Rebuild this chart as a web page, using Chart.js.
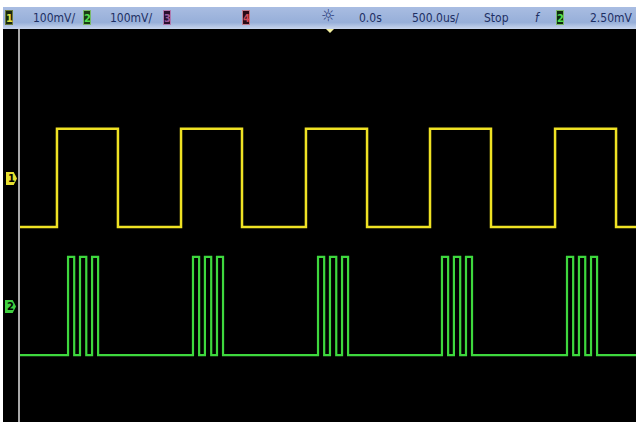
<!DOCTYPE html>
<html>
<head>
<meta charset="utf-8">
<script src="https://cdn.jsdelivr.net/npm/chart.js@4/dist/chart.umd.min.js"></script>
<style>
  html, body { margin: 0; padding: 0; background: #ffffff; }
  #wrap { position: relative; width: 636px; height: 422px; overflow: hidden; background: #ffffff; }
  #bar { position: absolute; left: 3px; top: 7px; width: 633px; height: 22px;
         background: linear-gradient(to bottom, #a9bde2 0%, #97afd9 70%, #c9d6ee 100%);
         font-family: "Liberation Sans Narrow", "DejaVu Sans Condensed", "Liberation Sans", sans-serif;
         font-size: 12px; color: #1d2f63; }
  .t { position: absolute; top: 4px; white-space: nowrap; line-height: 14px; }
  .box { position: absolute; top: 3px; width: 8px; height: 15px; font-size: 11px; line-height: 15px;
         text-align: center; font-family: "DejaVu Sans Condensed", sans-serif; font-weight: bold; box-sizing: border-box; }
  #screen { position: absolute; left: 3px; top: 29px; width: 633px; height: 393px; background: #000000; }
  #vline { position: absolute; left: 18px; top: 29px; width: 2px; height: 393px; background: #a8a8a8; }
  .mk { position: absolute; width: 11px; height: 13px; font-family: "DejaVu Sans", sans-serif; font-weight: bold;
        font-size: 10px; line-height: 13px; text-align: center; color: #000;
        clip-path: polygon(0 0, 70% 0, 100% 50%, 70% 100%, 0 100%); }
  #trig { position: absolute; left: 326px; top: 29px; width: 0; height: 0;
          border-left: 4px solid transparent; border-right: 4px solid transparent; border-top: 4px solid #f4f0a0; }
</style>
</head>
<body>
<div id="wrap">
  <div id="bar">
    <div class="box" style="left:2px;background:#18260e;color:#e4e040;border:1px solid #6a7a3a;">1</div>
    <div class="t" style="left:30px;">100mV/</div>
    <div class="box" style="left:80px;background:#1c3a14;color:#52e052;border:1px solid #7ab86a;">2</div>
    <div class="t" style="left:107px;">100mV/</div>
    <div class="box" style="left:160px;background:#2a0f2e;color:#9c5a9c;border:1px solid #b07ab0;">3</div>
    <div class="box" style="left:239px;background:#2a0a14;color:#d04a5a;border:1px solid #c07a8a;">4</div>
    <div class="t" style="left:318px;top:2px;font-size:16px;font-family:'DejaVu Sans',sans-serif;color:#2a3c7a;">☼</div>
    <div class="t" style="left:356px;">0.0s</div>
    <div class="t" style="left:409px;">500.0us/</div>
    <div class="t" style="left:481px;">Stop</div>
    <div class="t" style="left:532px;font-style:italic;">f</div>
    <div class="box" style="left:553px;background:#0e2a0e;color:#52e052;border:1px solid #7ab86a;">2</div>
    <div class="t" style="left:587px;">2.50mV</div>
  </div>
  <div id="screen"><canvas id="c" width="633" height="393"></canvas></div>
  <div id="vline"></div>
  <div id="trig"></div>
  <div class="mk" style="left:6px;top:172px;background:#e8e030;">1</div>
  <div class="mk" style="left:5px;top:300px;background:#40d040;">2</div>
</div>
<script>
// Time axis in microseconds (500 us/div, 10 div across screen)
const timeMin = -2500;
const timeMax = 2500;

// Channel 1 (yellow): edge times (us) and the level (mV) the signal takes at each time
const ch1Times  = [-2500, -2200, -1705, -1193, -698, -179, 317, 828, 1323, 1843, 2338, 2500];
const ch1Levels = [ -100,   100,  -100,   100, -100,  100, -100, 100, -100,  100, -100, -100];

// Channel 2 (green): bursts of 3 pulses
const ch2Times  = [-2500,
  -2110, -2060, -2013, -1962, -1915, -1866,
  -1096, -1046,  -999,  -948,  -901,  -852,
    -81,   -31,    16,    67,   114,   163,
    925,   975,  1022,  1073,  1120,  1169,
   1940,  1990,  2037,  2088,  2135,  2184,
   2500];
const ch2Levels = [-100,
  100, -100, 100, -100, 100, -100,
  100, -100, 100, -100, 100, -100,
  100, -100, 100, -100, 100, -100,
  100, -100, 100, -100, 100, -100,
  100, -100, 100, -100, 100, -100,
  -100];

// Vertical ranges (mV) of each channel on screen: 100 mV/div, 8 div
const ch1Range = [-497, 303];
const ch2Range = [-236, 564];

const toPts = (ts, vs) => ts.map((t, i) => ({ x: t, y: vs[i] }));

new Chart(document.getElementById('c'), {
  type: 'line',
  data: {
    datasets: [
      { label: 'Ch1', data: toPts(ch1Times, ch1Levels), yAxisID: 'y1', stepped: true,
        borderColor: '#efe224', borderWidth: 2.5, pointRadius: 0, fill: false },
      { label: 'Ch2', data: toPts(ch2Times, ch2Levels), yAxisID: 'y2', stepped: true,
        borderColor: '#3ed83e', borderWidth: 2.2, pointRadius: 0, fill: false }
    ]
  },
  options: {
    responsive: false,
    animation: false,
    events: [],
    layout: { padding: { left: 17, right: 0, top: 0, bottom: 0 } },
    plugins: { legend: { display: false }, tooltip: { enabled: false } },
    scales: {
      x: { type: 'linear', min: timeMin, max: timeMax, display: false },
      y1: { type: 'linear', min: ch1Range[0], max: ch1Range[1], display: false },
      y2: { type: 'linear', min: ch2Range[0], max: ch2Range[1], display: false }
    }
  }
});
</script>
</body>
</html>
